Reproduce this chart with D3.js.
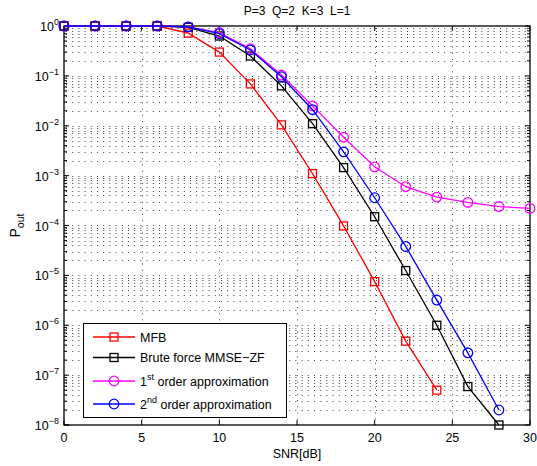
<!DOCTYPE html>
<html><head><meta charset="utf-8">
<script src="https://cdn.jsdelivr.net/npm/d3@7"></script>
<style>
body{margin:0;background:#fff;}
text{font-family:"Liberation Sans",Arial,sans-serif;fill:#000;white-space:pre;}
</style></head>
<body><svg id="c" width="537" height="466"></svg>
<script>
const snr = [0,2,4,6,8,10,12,14,16,18,20,22,24,26,28,30];
const mfb = [1,1,1,1,0.72,0.30,0.069,0.0104,0.0011,9.8e-5,7.5e-6,4.8e-7,5e-8];
const bruteForce = [1,1,1,1,0.94,0.63,0.25,0.063,0.011,0.00145,1.5e-4,1.25e-5,1.0e-6,5.9e-8,1e-8];
const firstOrder = [1,1,1,1,0.96,0.74,0.35,0.104,0.025,0.0059,0.0015,6.0e-4,3.7e-4,2.9e-4,2.4e-4,2.2e-4];
const secondOrder = [1,1,1,1,0.96,0.70,0.33,0.096,0.021,0.003,3.6e-4,3.8e-5,3.2e-6,2.8e-7,2.0e-8];
const xTicks = [0,5,10,15,20,25,30];
const yExps = [0,-1,-2,-3,-4,-5,-6,-7,-8];
const title = "P=3  Q=2  K=3  L=1";

const series = [
  {name:"MFB", vals:mfb, color:"#ff0000", marker:"square"},
  {name:"Brute force MMSE\u2212ZF", vals:bruteForce, color:"#000000", marker:"square"},
  {name:"1st order approximation", sup:["1","st"," order approximation"], vals:firstOrder, color:"#ff00ff", marker:"circle"},
  {name:"2nd order approximation", sup:["2","nd"," order approximation"], vals:secondOrder, color:"#0000ff", marker:"circle"}
];

const svg = d3.select("#c");
const L=64, R=530, T=26, B=425;
const x = d3.scaleLinear().domain([0,30]).range([L,R]);
const y = d3.scaleLog().domain([1e-8,1]).range([B,T]);

// grid
const g = svg.append("g");
const minor = [];
for (let e=-8; e<0; e++) for (let m=1; m<10; m++) minor.push(m*Math.pow(10,e));
minor.push(1);
g.selectAll("line.hg").data(minor.filter(v=>v>1e-8 && v<1)).enter().append("line")
  .attr("x1",L+2).attr("x2",R).attr("y1",d=>Math.round(y(d))+0.5).attr("y2",d=>Math.round(y(d))+0.5)
  .attr("stroke","#444").attr("stroke-width",1).attr("stroke-dasharray","1,5.2");
g.selectAll("line.vg").data(xTicks.slice(1,-1)).enter().append("line")
  .attr("x1",d=>Math.round(x(d))+0.5).attr("x2",d=>Math.round(x(d))+0.5).attr("y1",T+2).attr("y2",B)
  .attr("stroke","#444").attr("stroke-width",1).attr("stroke-dasharray","1,5.2");

// axes box
svg.append("rect").attr("x",L).attr("y",T).attr("width",R-L).attr("height",B-T)
  .attr("fill","none").attr("stroke","#000").attr("stroke-width",1.3);

// ticks inside
const tk = svg.append("g").attr("stroke","#000").attr("stroke-width",1);
xTicks.forEach(t=>{
  tk.append("line").attr("x1",x(t)).attr("x2",x(t)).attr("y1",B).attr("y2",B-5);
  tk.append("line").attr("x1",x(t)).attr("x2",x(t)).attr("y1",T).attr("y2",T+5);
});
minor.forEach(v=>{
  const major = Math.abs(Math.log10(v)-Math.round(Math.log10(v)))<1e-9;
  const len = major?5:3;
  tk.append("line").attr("x1",L).attr("x2",L+len).attr("y1",y(v)).attr("y2",y(v));
  tk.append("line").attr("x1",R).attr("x2",R-len).attr("y1",y(v)).attr("y2",y(v));
});
tk.append("line").attr("x1",L).attr("x2",L+5).attr("y1",y(1e-8)).attr("y2",y(1e-8));

// tick labels
svg.selectAll("text.xt").data(xTicks).enter().append("text")
  .attr("x",d=>x(d)).attr("y",B+17).attr("text-anchor","middle")
  .attr("font-size",12.5).text(d=>d);
yExps.forEach(e=>{
  const t = svg.append("text").attr("x",L-5).attr("y",y(Math.pow(10,e))+5)
    .attr("text-anchor","end").attr("font-size",12.5);
  t.append("tspan").text("10");
  t.append("tspan").attr("dy",-6).attr("font-size",9).text(e===0?"0":"\u2212"+(-e));
});

// title and labels
svg.append("text").attr("x",(L+R)/2).attr("y",15).attr("text-anchor","middle")
  .attr("font-size",12).text(title);
svg.append("text").attr("x",(L+R)/2).attr("y",458).attr("text-anchor","middle")
  .attr("font-size",12.5).text("SNR[dB]");
const yl = svg.append("text").attr("transform","translate(20,"+((T+B)/2)+") rotate(-90)")
  .attr("text-anchor","middle").attr("font-size",14);
yl.append("tspan").text("P");
yl.append("tspan").attr("dy",4).attr("font-size",10.5).text("out");

// series
const line = d3.line().x(d=>x(d[0])).y(d=>y(d[1]));
function drawMarker(sel, type, cx, cy, color){
  if(type==="square"){
    sel.append("rect").attr("x",cx-4).attr("y",cy-4).attr("width",8).attr("height",8)
      .attr("fill","none").attr("stroke",color).attr("stroke-width",1.3);
  } else {
    sel.append("circle").attr("cx",cx).attr("cy",cy).attr("r",4.8)
      .attr("fill","none").attr("stroke",color).attr("stroke-width",1.3);
  }
}
series.forEach(s=>{
  const pts = s.vals.map((v,j)=>[snr[j],v]);
  svg.append("path").attr("d",line(pts)).attr("fill","none")
    .attr("stroke",s.color).attr("stroke-width",1.3);
  const mg = svg.append("g");
  pts.forEach(p=>drawMarker(mg,s.marker,x(p[0]),y(p[1]),s.color));
});

// legend
const lg = svg.append("g");
lg.append("rect").attr("x",83.5).attr("y",323.5).attr("width",203).attr("height",94)
  .attr("fill","#fff").attr("stroke","#000").attr("stroke-width",1);
const ly = [337,357.5,381,404];
series.forEach((s,i)=>{
  lg.append("line").attr("x1",93).attr("x2",135).attr("y1",ly[i]).attr("y2",ly[i])
    .attr("stroke",s.color).attr("stroke-width",1.3);
  drawMarker(lg,s.marker,114,ly[i],s.color);
  const t = lg.append("text").attr("x",140).attr("y",ly[i]+4.5).attr("font-size",12.5);
  if(s.sup){
    t.append("tspan").text(s.sup[0]);
    t.append("tspan").attr("dy",-6).attr("font-size",9).text(s.sup[1]);
    t.append("tspan").attr("dy",6).text(s.sup[2]);
  } else t.text(s.name);
});
</script></body></html>
